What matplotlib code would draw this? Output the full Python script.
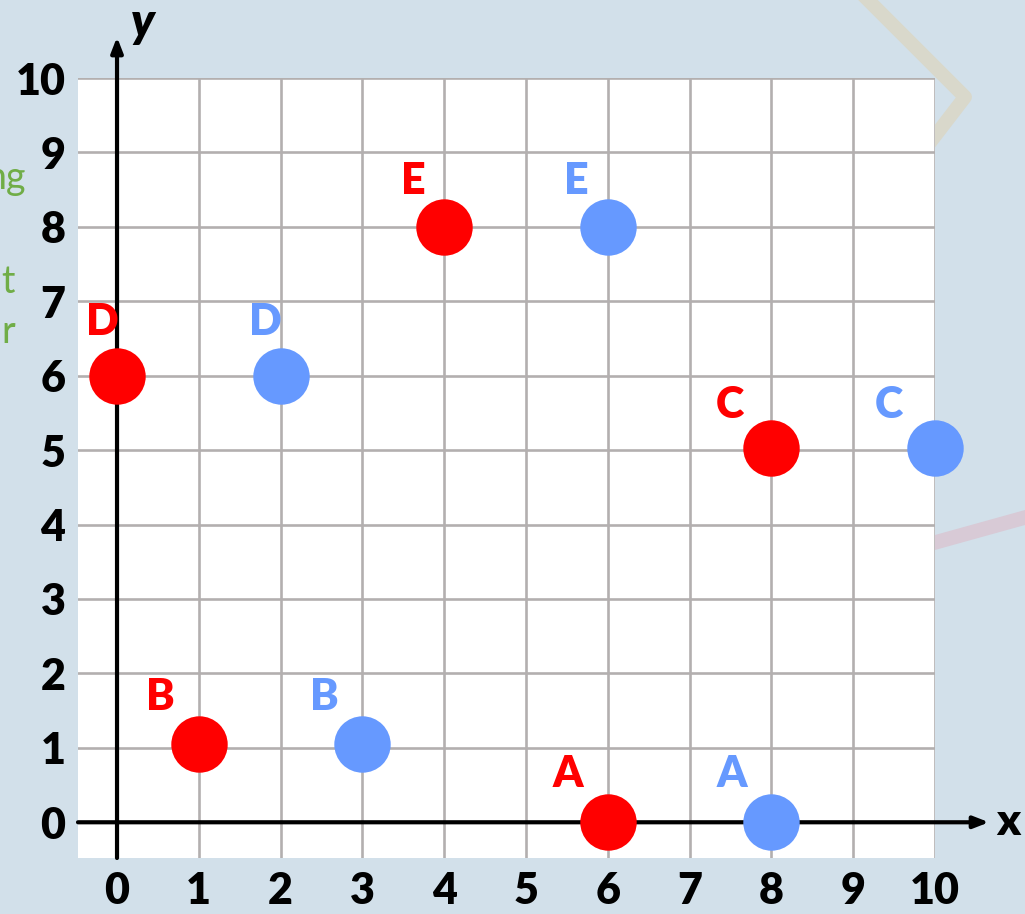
import matplotlib
matplotlib.use("Agg")
import matplotlib.pyplot as plt
from matplotlib.lines import Line2D
from matplotlib.patches import Polygon

# ---- data ----
labels = ["A", "B", "C", "D", "E"]
red_x = [6, 1, 8, 0, 4]
red_y = [0, 1.05, 5.03, 6, 8]
blue_x = [8, 3, 10, 2, 6]
blue_y = [0, 1.05, 5.03, 6, 8]
x_ticks = list(range(0, 11))
y_ticks = list(range(0, 11))

# label offsets in pixels (style only)
label_dx = [-40, -38, -42, -15, -31]
label_dy = [48, 47, 43, 54, 46]

RED = "#ff0000"
BLUE = "#6699ff"
BG = "#d2e0ea"
FONT = "Lato"
W = "heavy"

fig = plt.figure(figsize=(10.25, 9.14), dpi=100)
fig.patch.set_facecolor(BG)

# decorative background shapes
fig.add_artist(Line2D([868/1025, 965/1025, 905/1025], [1 - 0/914, 1 - 97/914, 1 - 175/914],
                      color="#d9d8cb", lw=10, transform=fig.transFigure, zorder=0))
fig.add_artist(Polygon([[935/1025, 1 - 535/914], [1.0, 1 - 510/914], [1.0, 1 - 525/914],
                        [935/1025, 1 - 550/914]], closed=True, facecolor="#d8cad6",
                       edgecolor="none", transform=fig.transFigure, zorder=0))

# cut-off green text fragments on the left
for txt, xf, ypix in [("ng", -0.014, 178), ("t", 0.001, 282), ("r", 0.001, 332)]:
    fig.text(xf, 1 - ypix/914, txt, color="#70ad47",
             fontsize=27, fontfamily=FONT, ha="left", va="center", zorder=0)

ax = fig.add_axes([78/1025, 1 - 858/914, (935 - 78)/1025, (858 - 78)/914])
ax.set_facecolor("white")
ax.set_xlim(-0.477, 10)
ax.set_ylim(-0.48, 10)
for s in ax.spines.values():
    s.set_visible(False)

ax.set_xticks(x_ticks)
ax.set_yticks(y_ticks)
ax.set_xticklabels([str(v) for v in x_ticks], fontsize=31, fontweight=W, fontfamily=FONT)
ax.set_yticklabels([str(v) for v in y_ticks], fontsize=31, fontweight=W, fontfamily=FONT)
ax.tick_params(length=0, pad=9)
ax.grid(True, color="#b3afaf", lw=1.9, zorder=0)
ax.set_axisbelow(True)

# axes with arrows
ax.annotate("", xy=(10.66, 0), xytext=(-0.477, 0), annotation_clip=False,
            arrowprops=dict(arrowstyle="-|>,head_length=0.9,head_width=0.35", color="black",
                            lw=3, shrinkA=0, shrinkB=0), zorder=3)
ax.annotate("", xy=(0, 10.55), xytext=(0, -0.48), annotation_clip=False,
            arrowprops=dict(arrowstyle="-|>,head_length=0.9,head_width=0.35", color="black",
                            lw=3, shrinkA=0, shrinkB=0), zorder=3)
ax.text(10.9, 0, "x", fontsize=32, fontweight=W, fontfamily=FONT, ha="center",
        va="center", clip_on=False)
ax.text(0.32, 10.74, "y", fontsize=34, fontweight=W, fontstyle="italic", fontfamily=FONT,
        ha="center", va="center", clip_on=False)

# points
ax.scatter(red_x, red_y, s=1650, color=RED, zorder=5, clip_on=False, linewidths=0)
ax.scatter(blue_x, blue_y, s=1650, color=BLUE, zorder=5, clip_on=False, linewidths=0)

for i, lab in enumerate(labels):
    ax.annotate(lab, (red_x[i], red_y[i]), xytext=(label_dx[i], label_dy[i]),
                textcoords="offset pixels", color=RED, fontsize=31, fontweight=W,
                fontfamily=FONT, ha="center", va="center", annotation_clip=False, zorder=6)
    ax.annotate(lab, (blue_x[i], blue_y[i]), xytext=(label_dx[i] if lab != "C" else -46, label_dy[i]),
                textcoords="offset pixels", color=BLUE, fontsize=31, fontweight=W,
                fontfamily=FONT, ha="center", va="center", annotation_clip=False, zorder=6)

fig.savefig("out.png", dpi=100, facecolor=BG)
